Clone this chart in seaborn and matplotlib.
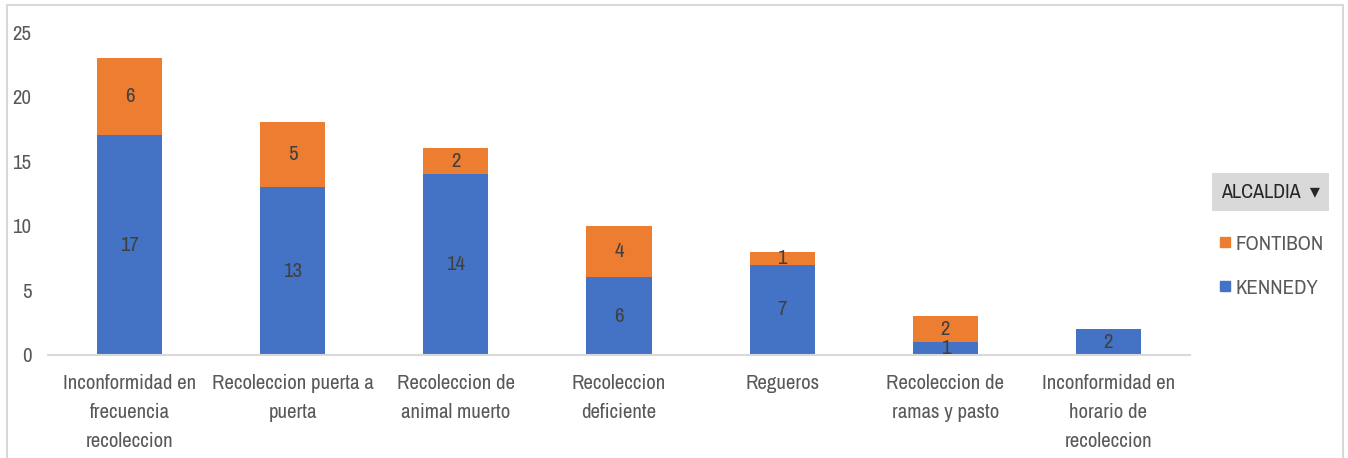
import numpy as np
import pandas as pd
import seaborn as sns
import matplotlib.pyplot as plt
from matplotlib import font_manager
from matplotlib.patches import Rectangle
from matplotlib.lines import Line2D

categorias = ['Inconformidad en\nfrecuencia\nrecoleccion', 'Recoleccion puerta a\npuerta',
              'Recoleccion de\nanimal muerto', 'Recoleccion\ndeficiente', 'Regueros',
              'Recoleccion de\nramas y pasto', 'Inconformidad en\nhorario de\nrecoleccion']
kennedy = [17, 13, 14, 6, 7, 1, 2]
fontibon = [6, 5, 2, 4, 1, 2, 0]
yticks = [0, 5, 10, 15, 20, 25]

azul = '#4472C4'
naranja = '#ED7D31'
gris = '#595959'

sns.set_style('white')

# buscar una fuente estrecha (tipo Arial Narrow) si hay alguna
nombres = sorted({f.name for f in font_manager.fontManager.ttflist})
estrecha = [n for n in nombres if 'Narrow' in n or 'Condensed' in n]
if estrecha:
    plt.rcParams['font.family'] = [estrecha[0], 'DejaVu Sans']
    tam = 15
else:
    plt.rcParams['font.family'] = ['DejaVu Sans']
    tam = 11.5

df = pd.DataFrame({'cat': categorias, 'KENNEDY': kennedy, 'FONTIBON': fontibon})
df['total'] = df['KENNEDY'] + df['FONTIBON']

fig = plt.figure(figsize=(13.48, 4.58), dpi=100)
ax = fig.add_axes([48 / 1348, 1 - 355 / 458, (1190 - 48) / 1348, (355 - 32) / 458])

sns.barplot(data=df, x='cat', y='total', color=naranja, width=0.4, saturation=1,
            linewidth=0, ax=ax)
sns.barplot(data=df, x='cat', y='KENNEDY', color=azul, width=0.4, saturation=1,
            linewidth=0, ax=ax)

# etiquetas de datos
for i, row in df.iterrows():
    if row['KENNEDY'] > 0:
        ax.text(i, row['KENNEDY'] / 2, str(row['KENNEDY']), ha='center', va='center',
                fontsize=tam, color='#404040')
    if row['FONTIBON'] > 0:
        ax.text(i, row['KENNEDY'] + row['FONTIBON'] / 2, str(row['FONTIBON']), ha='center',
                va='center', fontsize=tam, color='#404040')

ax.set_ylim(0, 25)
ax.set_xlim(-0.5, len(categorias) - 0.5)
ax.set_yticks(yticks)
ax.set_xlabel('')
ax.set_ylabel('')
ax.tick_params(axis='both', length=0, labelsize=tam, colors=gris)
ax.tick_params(axis='x', pad=14)
ax.tick_params(axis='y', pad=12)
ax.set_xticks(range(len(categorias)))
ax.set_xticklabels(categorias, linespacing=1.65)
for s in ['top', 'right', 'left']:
    ax.spines[s].set_visible(False)
ax.spines['bottom'].set_color('#d9d9d9')
ax.spines['bottom'].set_linewidth(1.5)

# marco del grafico
fig.patches.append(Rectangle((7 / 1348, -0.05), (1343 - 7) / 1348, 1.05 - 5 / 458,
                             transform=fig.transFigure, fill=False, edgecolor='#d9d9d9',
                             linewidth=1.5))

# leyenda
fig.text(1221 / 1348, 1 - 192 / 458, 'ALCALDIA  \u25be', fontsize=tam - 0.5, color='#262626',
         va='center', ha='left',
         bbox=dict(boxstyle='square,pad=0.45', facecolor='#d9d9d9', edgecolor='none'))
handles = [Line2D([], [], marker='s', linestyle='none', color=naranja, markersize=7),
           Line2D([], [], marker='s', linestyle='none', color=azul, markersize=7)]
fig.legend(handles, ['FONTIBON', 'KENNEDY'], loc='upper left',
           bbox_to_anchor=(1198 / 1348, 1 - 216 / 458), frameon=False, fontsize=tam,
           labelcolor=gris, handletextpad=0.1, handlelength=0.8, labelspacing=1.2)

fig.savefig('out.png', dpi=100)
